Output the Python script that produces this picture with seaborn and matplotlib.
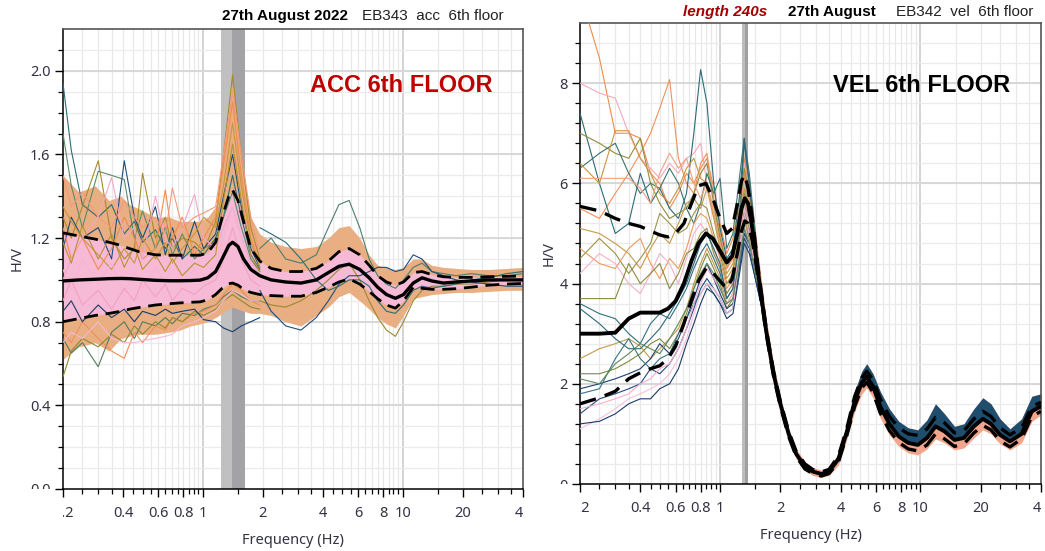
import numpy as np
import pandas as pd
import matplotlib
matplotlib.use("Agg")
import matplotlib.pyplot as plt
import seaborn as sns
from matplotlib.transforms import Bbox, TransformedBbox
from matplotlib.ticker import FixedLocator, FixedFormatter, NullFormatter

# ---------------------------------------------------------------- data
# ACC sensor, 6th floor: average H/V, +/- one standard deviation, envelope of windows
freq_L = [0.2, 0.24, 0.29, 0.34, 0.39, 0.43, 0.48, 0.58, 0.68, 0.77, 0.87, 0.97, 1.06,
          1.16, 1.25, 1.35, 1.41, 1.5, 1.6, 1.74, 1.93, 2.2, 2.6, 3.1, 3.7, 4.25, 4.8,
          5.4, 6.1, 6.8, 7.5, 8.3, 9.2, 10.1, 11.3, 12.5, 14.0, 16.0, 18.5, 22, 27, 33, 40]
mean_L = [0.995, 1.0, 1.003, 1.006, 1.007, 1.006, 1.003, 0.998, 0.996, 0.996, 0.997, 0.999,
          1.01, 1.04, 1.10, 1.165, 1.18, 1.16, 1.10, 1.05, 1.02, 1.0, 0.99, 0.985, 1.0,
          1.035, 1.065, 1.075, 1.05, 1.01, 0.965, 0.93, 0.912, 0.93, 0.985, 1.01, 0.995,
          0.985, 0.99, 0.995, 1.0, 1.0, 1.0]
upper_L = [1.225, 1.21, 1.195, 1.18, 1.165, 1.15, 1.135, 1.12, 1.118, 1.118, 1.118, 1.118,
           1.13, 1.18, 1.30, 1.40, 1.43, 1.38, 1.28, 1.15, 1.09, 1.055, 1.04, 1.04, 1.055,
           1.09, 1.135, 1.15, 1.12, 1.07, 1.02, 0.99, 0.975, 0.99, 1.035, 1.04, 1.025,
           1.015, 1.012, 1.012, 1.015, 1.017, 1.018]
lower_L = [0.80, 0.815, 0.83, 0.84, 0.85, 0.86, 0.868, 0.88, 0.886, 0.89, 0.893, 0.895,
           0.905, 0.93, 0.96, 0.982, 0.985, 0.975, 0.955, 0.94, 0.93, 0.925, 0.922, 0.922,
           0.94, 0.965, 0.99, 1.005, 0.98, 0.945, 0.91, 0.88, 0.865, 0.9, 0.965, 0.96,
           0.955, 0.955, 0.958, 0.965, 0.975, 0.98, 0.983]
top_L = [1.5, 1.42, 1.45, 1.38, 1.4, 1.36, 1.34, 1.3, 1.3, 1.28, 1.28, 1.28, 1.3, 1.35,
         1.55, 1.8, 1.95, 1.75, 1.5, 1.3, 1.22, 1.18, 1.16, 1.15, 1.16, 1.2, 1.25, 1.26,
         1.2, 1.12, 1.07, 1.06, 1.05, 1.06, 1.1, 1.1, 1.07, 1.06, 1.055, 1.05, 1.05,
         1.055, 1.06]
bot_L = [0.62, 0.68, 0.7, 0.66, 0.72, 0.73, 0.74, 0.74, 0.75, 0.76, 0.78, 0.79, 0.8,
         0.82, 0.84, 0.86, 0.87, 0.86, 0.85, 0.84, 0.84, 0.83, 0.8, 0.78, 0.83, 0.87,
         0.92, 0.94, 0.9, 0.86, 0.82, 0.79, 0.77, 0.83, 0.91, 0.92, 0.93, 0.935, 0.94,
         0.94, 0.945, 0.95, 0.95]

# individual windows (low-frequency part)
winf_L = [0.2, 0.22, 0.25, 0.3, 0.35, 0.405, 0.455, 0.5, 0.58, 0.65, 0.705, 0.79, 0.91,
          1.01, 1.16, 1.27, 1.41, 1.56, 1.74, 1.93]
win_L = [
    [1.94, 1.62, 1.36, 1.30, 1.36, 1.22, 1.28, 1.18, 1.24, 1.15, 1.2, 1.1, 1.16, 1.12, 1.2, 1.3, 1.5, 1.3, 1.12, 1.05],
    [1.70, 1.45, 1.25, 1.52, 1.50, 1.48, 1.2, 1.33, 1.15, 1.25, 1.12, 1.22, 1.1, 1.15, 1.18, 1.3, 1.42, 1.25, 1.1, 1.04],
    [1.3, 1.2, 1.35, 1.57, 1.2, 1.1, 1.15, 1.51, 1.2, 1.3, 1.15, 1.2, 1.18, 1.14, 1.28, 1.6, 1.98, 1.6, 1.25, 1.1],
    [1.15, 1.3, 1.2, 1.25, 1.1, 1.57, 1.3, 1.2, 1.35, 1.12, 1.25, 1.1, 1.28, 1.15, 1.22, 1.4, 1.6, 1.35, 1.15, 1.06],
    [1.25, 1.1, 1.2, 1.05, 1.15, 1.3, 1.2, 1.1, 1.15, 1.43, 1.2, 1.3, 1.12, 1.2, 1.3, 1.55, 1.85, 1.5, 1.2, 1.08],
    [1.0, 1.1, 1.2, 1.3, 1.49, 1.2, 1.25, 1.1, 1.4, 1.2, 1.15, 1.25, 1.41, 1.2, 1.15, 1.25, 1.35, 1.2, 1.08, 1.03],
    [0.72, 0.65, 0.7, 0.585, 0.75, 0.8, 0.72, 0.8, 0.78, 0.82, 0.79, 0.84, 0.83, 0.86, 0.88, 0.92, 0.95, 0.92, 0.9, 0.9],
    [0.75, 0.7, 0.8, 0.72, 0.66, 0.625, 0.75, 0.7, 0.78, 0.76, 0.82, 0.8, 0.84, 0.85, 0.88, 0.93, 0.98, 0.95, 0.9, 0.88],
    [0.537, 0.66, 0.72, 0.68, 0.74, 0.7, 0.78, 0.74, 0.8, 0.77, 0.82, 0.8, 0.85, 0.83, 0.86, 0.9, 0.93, 0.9, 0.87, 0.86],
    [0.85, 0.9, 0.8, 0.88, 0.82, 0.86, 0.8, 0.85, 0.83, 0.86, 0.84, 0.85, 0.86, 0.81, 0.80, 0.77, 0.752, 0.78, 0.80, 0.82],
    [0.7, 0.75, 0.72, 0.8, 0.72, 0.7, 0.7, 0.71, 0.72, 0.73, 0.74, 0.78, 0.8, 0.82, 0.85, 0.9, 0.95, 0.93, 0.9, 0.9],
    [1.5, 1.35, 1.42, 1.3, 1.25, 1.38, 1.3, 1.25, 1.3, 1.22, 1.44, 1.25, 1.3, 1.32, 1.35, 1.6, 1.9, 1.6, 1.3, 1.12],
    [1.35, 1.28, 1.2, 1.12, 1.05, 1.15, 1.08, 1.2, 1.1, 1.18, 1.08, 1.15, 1.22, 1.3, 1.25, 1.45, 1.75, 1.45, 1.18, 1.06],
    [1.05, 0.95, 1.1, 0.98, 1.08, 0.94, 1.04, 0.96, 1.06, 0.98, 1.1, 1.0, 1.05, 0.98, 1.08, 1.2, 1.35, 1.2, 1.06, 1.02],
    [0.9, 1.0, 0.88, 0.95, 0.86, 0.96, 0.9, 1.0, 0.92, 0.98, 0.9, 0.96, 0.93, 0.97, 1.0, 1.1, 1.25, 1.1, 1.0, 0.97],
    [1.18, 1.08, 1.26, 1.1, 1.22, 1.06, 1.16, 1.05, 1.12, 1.04, 1.1, 1.02, 1.08, 1.06, 1.12, 1.38, 1.65, 1.38, 1.12, 1.04],
]
wincol_L = ['#2f6b73', '#5b8a6a', '#a68b2c', '#1f4e79', '#f08c50', '#f4a6c8',
            '#4f7d5e', '#ef8f5a', '#8c8a30', '#1a3a6a', '#f7b8d6', '#f49a7a',
            '#c8963c', '#f6b3d3', '#f2a1c4', '#b8922e']

# individual windows (high-frequency part)
hif_L = freq_L[20:]
hwin_L = [
    [1.15, 1.2, 1.1, 1.08, 1.12, 1.25, 1.36, 1.38, 1.25, 1.1, 1.02, 0.98, 0.96, 1.0, 1.06, 1.08, 1.04, 1.03, 1.02, 1.03, 1.02, 1.02, 1.03],
    [0.9, 0.88, 0.87, 0.9, 0.95, 1.0, 1.05, 1.08, 1.0, 0.9, 0.82, 0.76, 0.73, 0.8, 0.9, 0.95, 0.97, 0.97, 0.98, 0.98, 0.99, 1.0, 1.0],
    [0.95, 0.85, 0.78, 0.76, 0.82, 0.9, 0.98, 1.02, 1.02, 1.04, 1.06, 1.06, 1.04, 1.05, 1.12, 1.1, 1.04, 1.02, 1.0, 0.99, 0.98, 0.97, 0.97],
    [1.25, 1.22, 1.18, 1.1, 1.0, 0.95, 0.97, 1.0, 1.0, 0.97, 0.9, 0.85, 0.84, 0.88, 0.95, 0.97, 0.96, 0.97, 0.98, 1.0, 1.01, 1.03, 1.04],
]
hwincol_L = ['#4f7d6a', '#9a8a30', '#1f4e79', '#2f6b73']

f0_L, f0_lo_L, f0_hi_L = 1.40, 1.23, 1.625

# VEL sensor, 6th floor
freq_R = [0.2, 0.25, 0.3, 0.35, 0.4, 0.45, 0.5, 0.55, 0.6, 0.66, 0.72, 0.78, 0.85, 0.92,
          1.0, 1.08, 1.15, 1.22, 1.28, 1.33, 1.38, 1.45, 1.55, 1.7, 1.85, 2.0, 2.2, 2.4,
          2.65, 2.9, 3.2, 3.5, 3.9, 4.3, 4.7, 5.1, 5.4, 5.8, 6.3, 7.0, 7.8, 8.7, 9.7,
          10.8, 11.9, 13.2, 14.8, 16.5, 18.5, 20.5, 22.5, 25, 28, 32, 36, 40]
mean_R = [3.0, 3.0, 3.02, 3.3, 3.42, 3.42, 3.42, 3.5, 3.65, 4.0, 4.45, 4.8, 5.0, 4.9,
          4.65, 4.42, 4.55, 5.0, 5.5, 5.7, 5.6, 5.1, 4.2, 3.05, 2.2, 1.6, 1.0, 0.6, 0.35,
          0.25, 0.2, 0.25, 0.5, 1.05, 1.65, 2.02, 2.14, 1.95, 1.55, 1.2, 0.95, 0.82,
          0.78, 0.92, 1.15, 1.05, 0.88, 0.92, 1.15, 1.3, 1.2, 0.98, 0.85, 1.0, 1.45, 1.55]
upper_R = [5.54, 5.45, 5.3, 5.2, 5.14, 5.05, 4.97, 4.93, 5.0, 5.2, 5.6, 5.95, 6.0, 5.7,
           5.3, 5.0, 5.1, 5.6, 6.05, 6.17, 5.9, 5.3, 4.3, 3.1, 2.25, 1.65, 1.05, 0.65,
           0.4, 0.29, 0.24, 0.29, 0.56, 1.12, 1.75, 2.12, 2.25, 2.08, 1.7, 1.35, 1.12,
           1.0, 0.97, 1.1, 1.33, 1.22, 1.02, 1.06, 1.3, 1.45, 1.35, 1.12, 0.98, 1.12,
           1.55, 1.63]
lower_R = [1.6, 1.72, 1.85, 2.1, 2.22, 2.3, 2.36, 2.5, 2.75, 3.2, 3.67, 4.05, 4.3, 4.22,
           4.05, 3.9, 4.1, 4.6, 5.05, 5.25, 5.2, 4.85, 4.1, 3.0, 2.15, 1.55, 0.95, 0.55,
           0.3, 0.21, 0.16, 0.21, 0.44, 0.98, 1.55, 1.92, 2.03, 1.83, 1.42, 1.07, 0.83,
           0.7, 0.66, 0.78, 1.0, 0.9, 0.75, 0.8, 1.02, 1.17, 1.08, 0.86, 0.74, 0.9,
           1.35, 1.45]
hif_R = freq_R[21:]
top_R = [5.6, 4.6, 3.3, 2.4, 1.75, 1.12, 0.7, 0.45, 0.33, 0.28, 0.33, 0.62, 1.2, 1.85,
         2.25, 2.4, 2.2, 1.85, 1.5, 1.25, 1.12, 1.08, 1.28, 1.6, 1.4, 1.15, 1.2, 1.5,
         1.72, 1.6, 1.3, 1.1, 1.3, 1.75, 1.8]
bot_R = [4.6, 3.8, 2.8, 2.05, 1.48, 0.9, 0.5, 0.27, 0.17, 0.13, 0.17, 0.38, 0.9, 1.45,
         1.8, 1.92, 1.72, 1.32, 0.98, 0.75, 0.62, 0.58, 0.7, 0.9, 0.82, 0.68, 0.72,
         0.92, 1.08, 1.0, 0.8, 0.68, 0.82, 1.25, 1.38]

winf_R = [0.2, 0.25, 0.3, 0.35, 0.4, 0.45, 0.5, 0.56, 0.62, 0.68, 0.74, 0.8, 0.86, 0.93,
          1.0, 1.08, 1.16, 1.24, 1.32, 1.4, 1.5, 1.62]
win_R = [
    [9.8, 8.5, 7.0, 7.0, 6.9, 6.2, 6.0, 5.5, 5.8, 6.2, 6.0, 6.3, 6.5, 5.9, 5.2, 4.6, 4.9, 5.6, 6.5, 6.0, 5.0, 3.7],
    [8.0, 7.8, 7.7, 7.0, 6.5, 6.3, 6.1, 6.4, 6.2, 6.5, 6.6, 6.8, 6.0, 5.5, 5.0, 4.4, 4.6, 5.4, 6.4, 5.8, 4.8, 3.6],
    [5.5, 5.3, 5.8, 6.2, 6.6, 7.0, 7.5, 8.07, 6.5, 6.0, 5.8, 6.4, 6.6, 5.7, 5.0, 4.3, 4.5, 5.3, 6.2, 5.7, 4.9, 3.7],
    [7.4, 6.0, 5.0, 5.2, 6.2, 5.6, 5.9, 5.5, 5.3, 5.8, 7.0, 8.27, 7.6, 6.0, 5.1, 4.5, 4.7, 5.6, 6.8, 6.0, 4.8, 3.6],
    [7.0, 6.8, 6.6, 6.5, 6.9, 6.0, 5.6, 5.3, 5.4, 5.5, 5.8, 6.2, 6.4, 5.6, 4.9, 4.3, 4.6, 5.4, 6.3, 5.8, 4.8, 3.7],
    [6.3, 6.6, 6.8, 6.2, 5.8, 6.0, 5.9, 6.3, 6.0, 5.5, 5.2, 5.6, 6.2, 5.8, 6.1, 4.7, 5.0, 6.0, 6.9, 6.2, 5.0, 3.7],
    [6.4, 6.0, 7.05, 7.05, 6.5, 6.2, 5.8, 5.6, 5.9, 6.3, 6.5, 6.1, 6.0, 5.4, 4.8, 4.2, 4.4, 5.2, 6.2, 5.7, 4.8, 3.6],
    [6.1, 6.1, 6.1, 6.1, 5.9, 5.6, 6.2, 6.6, 6.3, 6.5, 6.0, 5.7, 6.0, 5.4, 4.8, 4.3, 4.5, 5.3, 6.1, 5.6, 4.7, 3.6],
    [5.1, 5.0, 4.8, 4.6, 4.3, 4.7, 5.0, 4.8, 5.2, 5.6, 5.7, 5.5, 5.9, 5.3, 4.7, 4.1, 4.3, 5.0, 5.9, 5.5, 4.6, 3.6],
    [4.5, 4.9, 4.6, 4.2, 4.5, 4.8, 5.4, 5.2, 5.0, 5.1, 5.4, 5.6, 5.5, 5.0, 4.6, 4.0, 4.2, 4.9, 5.8, 5.4, 4.6, 3.6],
    [4.7, 4.4, 4.3, 4.7, 4.9, 4.4, 4.1, 4.5, 4.3, 4.7, 5.2, 5.4, 5.3, 4.9, 4.5, 3.9, 4.1, 4.8, 5.7, 5.3, 4.5, 3.6],
    [4.2, 4.6, 4.4, 4.0, 3.8, 4.2, 4.6, 4.4, 4.0, 4.5, 5.0, 5.2, 5.0, 4.7, 4.3, 3.8, 4.0, 4.7, 5.5, 5.2, 4.5, 3.6],
    [3.7, 3.7, 3.7, 4.4, 4.0, 4.2, 4.4, 3.9, 4.2, 4.6, 4.7, 5.0, 5.1, 4.6, 4.3, 3.8, 4.0, 4.6, 5.4, 5.1, 4.4, 3.6],
    [3.6, 3.4, 3.3, 3.0, 2.8, 3.2, 3.4, 3.3, 3.6, 3.9, 4.3, 4.6, 4.8, 4.5, 4.2, 3.7, 3.9, 4.6, 5.4, 5.0, 4.4, 3.6],
    [2.5, 2.7, 2.8, 2.9, 2.75, 2.5, 2.7, 2.9, 3.1, 3.5, 4.0, 4.4, 4.7, 4.4, 4.1, 3.6, 3.8, 4.5, 5.3, 4.9, 4.3, 3.6],
    [2.2, 2.2, 2.3, 2.45, 2.6, 2.8, 2.9, 2.7, 3.0, 3.4, 3.9, 4.3, 4.6, 4.3, 4.0, 3.5, 3.7, 4.4, 5.2, 4.9, 4.3, 3.6],
    [1.9, 2.0, 2.1, 2.2, 2.3, 2.5, 2.8, 2.6, 2.9, 3.3, 3.7, 4.1, 4.4, 4.1, 3.8, 3.5, 3.6, 4.3, 5.0, 4.8, 4.2, 3.5],
    [1.4, 1.7, 1.8, 1.9, 2.0, 2.3, 2.2, 2.4, 2.7, 3.1, 3.5, 3.9, 4.1, 3.9, 3.7, 3.4, 3.5, 4.2, 4.9, 4.7, 4.1, 3.5],
    [1.8, 1.9, 2.5, 2.9, 2.5, 2.3, 2.5, 2.6, 3.0, 3.3, 3.6, 3.8, 4.0, 3.8, 3.6, 3.4, 3.5, 4.3, 5.1, 4.8, 4.2, 3.5],
    [1.1, 1.3, 1.5, 1.7, 1.8, 1.9, 2.0, 2.2, 2.5, 2.9, 3.4, 3.8, 4.0, 3.9, 3.7, 3.4, 3.5, 4.4, 5.2, 4.8, 4.2, 3.6],
    [1.2, 1.25, 1.4, 1.6, 1.7, 1.7, 1.9, 2.0, 2.3, 2.8, 3.2, 3.6, 3.9, 3.8, 3.6, 3.3, 3.4, 4.1, 4.8, 4.6, 4.1, 3.5],
    [1.5, 1.6, 1.7, 1.8, 2.0, 2.1, 2.3, 2.4, 2.7, 3.1, 3.6, 4.0, 4.3, 4.1, 3.9, 3.6, 3.8, 4.6, 5.4, 5.0, 4.3, 3.6],
    [2.1, 2.0, 2.4, 2.6, 2.8, 2.7, 2.6, 2.9, 3.2, 3.5, 3.9, 4.2, 4.4, 4.2, 3.9, 3.6, 3.7, 4.4, 5.1, 4.8, 4.2, 3.6],
    [3.5, 3.2, 2.9, 2.7, 2.7, 2.9, 3.1, 3.4, 3.7, 4.0, 4.4, 4.8, 5.0, 4.7, 4.4, 3.7, 3.9, 4.8, 6.9, 6.0, 4.8, 3.6],
]
wincol_R = ['#ef8c4f', '#f7a9b8', '#f0915a', '#2b6a78', '#8f8b3a', '#3b736c', '#c9953e',
            '#f3a07f', '#c89a4a', '#9a9342', '#ec9a5e', '#f4b0cc', '#8a8a3c', '#2f6f7d',
            '#c49a4e', '#7f8a3e', '#1d3f72', '#244a80', '#3a7580', '#f7c0dc', '#1b3a6b',
            '#f5aecb', '#5e8a5e', '#2d6878']

f0_R, f0_lo_R, f0_hi_R = 1.33, 1.29, 1.38

xticks = [0.2, 0.4, 0.6, 0.8, 1, 2, 4, 6, 8, 10, 20, 40]
xticklabels = ['0.2', '0.4', '0.6', '0.8', '1', '2', '4', '6', '8', '10', '20', '40']

# ---------------------------------------------------------------- style
sns.set_theme(style="white")
plt.rcParams['font.family'] = ['Noto Sans', 'DejaVu Sans']
plt.rcParams['axes.linewidth'] = 1.0
HEAD = 'Liberation Sans'

W, H = 1045, 551
fig = plt.figure(figsize=(W / 100, H / 100), dpi=100)
fig.patch.set_facecolor('white')


def px_axes(x0, y0, x1, y1):
    return fig.add_axes([x0 / W, 1 - y1 / H, (x1 - x0) / W, (y1 - y0) / H])


axL = px_axes(63, 29, 523, 489)
axR = px_axes(580, 23, 1041, 484)

xgrid = list(np.arange(0.25, 0.999, 0.05)) + list(np.arange(1.5, 9.9, 0.5)) + [15, 20, 25, 30, 35]


def frame(ax, ymax, ymajor, yminor, fmt, ylabelpad):
    ax.set_xscale('log')
    ax.set_xlim(0.2, 40)
    ax.set_ylim(0, ymax)
    ax.set_facecolor('white')
    for f in xgrid:
        ax.axvline(f, color='#e8e8e8', lw=0.9, zorder=0)
    for f in (1, 10):
        ax.axvline(f, color='#d4d4d4', lw=1.4, zorder=0)
    ymin_t = np.arange(yminor, ymax, yminor)
    for y in ymin_t:
        ax.axhline(y, color='#ebebeb', lw=0.9, zorder=0)
    ymaj_t = np.arange(0, ymax + 1e-9, ymajor)
    for y in ymaj_t[1:]:
        ax.axhline(y, color='#d8d8d8', lw=1.4, zorder=0)
    ax.xaxis.set_major_locator(FixedLocator(xticks))
    ax.xaxis.set_major_formatter(FixedFormatter(xticklabels))
    ax.xaxis.set_minor_locator(FixedLocator([f for f in xgrid if f not in xticks]))
    ax.xaxis.set_minor_formatter(NullFormatter())
    ax.yaxis.set_major_locator(FixedLocator(ymaj_t))
    ax.yaxis.set_major_formatter(FixedFormatter([fmt.format(v) for v in ymaj_t]))
    ax.yaxis.set_minor_locator(FixedLocator(ymin_t))
    ax.tick_params(which='both', direction='out', color='black', labelcolor='#333344',
                   labelsize=10.5, bottom=True, left=True, top=False, right=False)
    ax.tick_params(axis='x', which='major', length=6, width=1, pad=6)
    ax.tick_params(axis='y', which='major', length=6, width=1, pad=3)
    ax.tick_params(which='minor', length=3.5, width=0.9)
    for s in ('left', 'bottom'):
        ax.spines[s].set_color('black')
        ax.spines[s].set_linewidth(1.1)
    for s in ('top', 'right'):
        ax.spines[s].set_color('#555555')
        ax.spines[s].set_linewidth(1.2)
    ax.set_xlabel('Frequency (Hz)', fontsize=10.5, color='#333344', labelpad=9)
    ax.set_ylabel('H/V', fontsize=10.5, color='#333344', labelpad=ylabelpad)


def windows_frame(freqs, curves):
    rows = [(f, v, f'w{i:02d}') for i, c in enumerate(curves) for f, v in zip(freqs, c)]
    return pd.DataFrame(rows, columns=['freq', 'hv', 'win'])


def summary(ax, freqs, mean, upper, lower, lw):
    sns.lineplot(x=freqs, y=upper, color='black', lw=lw, linestyle=(0, (5, 2.8)),
                 ax=ax, zorder=6, sort=False)
    sns.lineplot(x=freqs, y=lower, color='black', lw=lw, linestyle=(0, (5, 2.8)),
                 ax=ax, zorder=6, sort=False)
    sns.lineplot(x=freqs, y=mean, color='black', lw=lw + 0.4, ax=ax, zorder=7, sort=False)


# ------------------------------------------------------------ ACC panel
frame(axL, 2.2, 0.4, 0.1, '{:.1f}', 4)
axL.axvspan(f0_lo_L, f0_L, color='#c0c0c0', lw=0, zorder=0.5)
axL.axvspan(f0_L, f0_hi_L, color='#a3a3a7', lw=0, zorder=0.5)
axL.fill_between(freq_L, bot_L, top_L, color='#e9ae82', lw=0, zorder=1)
axL.fill_between(freq_L, lower_L, upper_L, color='#f6bad6', lw=0, zorder=1.5)
dfL = windows_frame(winf_L, win_L)
sns.lineplot(data=dfL, x='freq', y='hv', hue='win', palette=wincol_L, units='win',
             estimator=None, legend=False, lw=0.8, ax=axL, zorder=3, sort=False)
dfLh = windows_frame(hif_L, hwin_L)
sns.lineplot(data=dfLh, x='freq', y='hv', hue='win', palette=hwincol_L, units='win',
             estimator=None, legend=False, lw=0.8, ax=axL, zorder=3, sort=False)
summary(axL, freq_L, mean_L, upper_L, lower_L, 2.0)
axL.set_xlim(0.2, 40)
axL.set_ylim(0, 2.2)
axL.text(0.537, 0.878, 'ACC 6th FLOOR', transform=axL.transAxes, ha='left', va='center',
         fontsize=17, fontweight='bold', color='#c00000', family=HEAD, zorder=10)

# ------------------------------------------------------------ VEL panel
frame(axR, 9.2, 2, 0.4, '{:.0f}', 2)
axR.axvspan(f0_lo_R, f0_R, color='#bdbdbd', lw=0, zorder=0.5)
axR.axvspan(f0_R, f0_hi_R, color='#a0a0a0', lw=0, zorder=0.5)
dfR = windows_frame(winf_R, win_R)
sns.lineplot(data=dfR, x='freq', y='hv', hue='win', palette=wincol_R, units='win',
             estimator=None, legend=False, lw=0.8, ax=axR, zorder=3, sort=False)
axR.fill_between(hif_R, bot_R, top_R, color='#f0a58c', lw=0, zorder=2)
hf = np.array(hif_R)
axR.fill_between(hif_R, mean_R[21:], top_R, where=hf >= 3.9, color='#1f4d6d', lw=0,
                 zorder=2.5, interpolate=True)
summary(axR, freq_R, mean_R, upper_R, lower_R, 2.4)
axR.set_xlim(0.2, 40)
axR.set_ylim(0, 9.2)
axR.text(0.549, 0.865, 'VEL 6th FLOOR', transform=axR.transAxes, ha='left', va='center',
         fontsize=17, fontweight='bold', color='black', family=HEAD, zorder=10)

# ------------------------------------------------------------ headers
fig.text(222 / W, 1 - 16 / H, '27th August 2022', ha='left', va='center', fontsize=11,
         fontweight='bold', color='black', family=HEAD)
fig.text(362 / W, 1 - 16 / H, 'EB343  acc  6th floor', ha='left', va='center', fontsize=11,
         color='#222222', family=HEAD)
fig.text(683 / W, 1 - 12 / H, 'length 240s', ha='left', va='center', fontsize=11,
         fontweight='bold', fontstyle='italic', color='#a00000', family=HEAD)
fig.text(788 / W, 1 - 12 / H, '27th August', ha='left', va='center', fontsize=11,
         fontweight='bold', color='black', family=HEAD)
fig.text(896 / W, 1 - 12 / H, 'EB342  vel  6th floor', ha='left', va='center', fontsize=11,
         color='#222222', family=HEAD)

# tick labels stay inside the extent of their axis
for ax in (axL, axR):
    xbox = TransformedBbox(Bbox([[0, -2], [1, 1]]), ax.transAxes)
    ybox = TransformedBbox(Bbox([[-2, 0], [1, 1]]), ax.transAxes)
    for lab in ax.xaxis.get_majorticklabels():
        lab.set_clip_box(xbox)
        lab.set_clip_on(True)
    for lab in ax.yaxis.get_majorticklabels():
        lab.set_clip_box(ybox)
        lab.set_clip_on(True)

fig.savefig('out.png', dpi=100, facecolor='white')
